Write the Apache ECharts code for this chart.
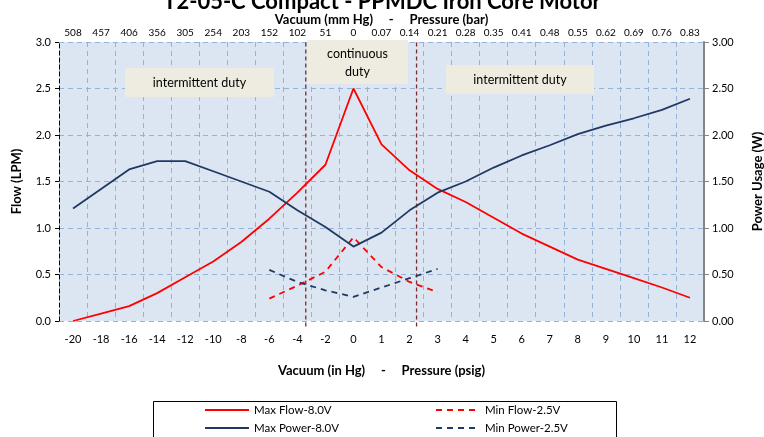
<!DOCTYPE html>
<html><head><meta charset="utf-8">
<script src="https://cdn.jsdelivr.net/npm/echarts@6/dist/echarts.min.js"></script>
<style>html,body{margin:0;padding:0;background:#fff}#c{width:764px;height:437px}</style>
</head><body><div id="c"></div>
<script>
const bottomLabels = ['-20','-18','-16','-14','-12','-10','-8','-6','-4','-2','0','1','2','3','4','5','6','7','8','9','10','11','12'];
const topLabels = ['508','457','406','356','305','254','203','152','102','51','0','0.07','0.14','0.21','0.28','0.35','0.41','0.48','0.55','0.62','0.69','0.76','0.83'];
const maxFlow = [0.00,0.08,0.16,0.30,0.47,0.64,0.85,1.10,1.38,1.68,2.50,1.90,1.62,1.42,1.28,1.11,0.94,0.80,0.66,0.56,0.46,0.36,0.25];
const maxPower = [1.21,1.42,1.63,1.72,1.72,1.61,1.50,1.39,1.19,1.01,0.80,0.95,1.19,1.38,1.50,1.65,1.78,1.89,2.01,2.10,2.18,2.27,2.39];
const minFlow = [null,null,null,null,null,null,null,0.24,0.38,0.53,0.90,0.58,0.42,0.31,null,null,null,null,null,null,null,null,null];
const minPower = [null,null,null,null,null,null,null,0.55,0.42,0.33,0.26,0.36,0.46,0.56,null,null,null,null,null,null,null,null,null];
const dutyBoundaries = [-3.4, 2.25]; // vacuum inHg (neg) / pressure psig (pos)

function toIndex(v){ return v < 0 ? (v + 20) / 2 : 10 + v; }

const FONT = 'Lato';
const chart = echarts.init(document.getElementById('c'));
const boundarySeries = dutyBoundaries.map(b => ({
  type:'line', xAxisIndex:2, yAxisIndex:0, symbol:'none', silent:true, clip:false,
  data:[[toIndex(b), -0.06],[toIndex(b), 3.0]],
  lineStyle:{color:'#7b2c2c', width:1.3, type:[4,3]}, z:3
}));
const legendCommon = {orient:'vertical', top:404, itemGap:6, itemWidth:44, itemHeight:12, padding:0,
  itemStyle:{opacity:0}, textStyle:{fontFamily:FONT, fontSize:11.5, color:'#000'}};
chart.setOption({
  animation:false,
  textStyle:{fontFamily:FONT},
  title:{text:'T2-05-C Compact - PPMDC Iron Core Motor', left:'center', top:-14,
    textStyle:{fontFamily:FONT, fontSize:22, fontWeight:'bold', color:'#000'}},
  grid:{left:59, right:60, top:42, bottom:116, show:true, backgroundColor:'#dce6f2', borderWidth:0,
    outerBoundsMode:'none', containLabel:false},
  legend:[
    Object.assign({data:['Max Flow-8.0V','Max Power-8.0V'], left:204}, legendCommon),
    Object.assign({data:['Min Flow-2.5V','Min Power-2.5V'], left:435}, legendCommon)
  ],
  xAxis:[
    {type:'category', data:bottomLabels, position:'bottom', boundaryGap:true,
     axisLine:{show:false}, axisTick:{show:false},
     axisLabel:{fontFamily:FONT, fontSize:11, color:'#000', margin:13, interval:0},
     splitLine:{show:true, lineStyle:{color:'#95b3d7', type:[5,4], width:1}},
     name:'Vacuum (in Hg)     -     Pressure (psig)', nameLocation:'middle', nameGap:43,
     nameTextStyle:{fontFamily:FONT, fontSize:13, fontWeight:'bold', color:'#000'}},
    {type:'category', data:topLabels, position:'top', boundaryGap:true,
     axisLine:{show:false}, axisTick:{show:false},
     axisLabel:{fontFamily:FONT, fontSize:10, color:'#000', margin:4, interval:0},
     name:'Vacuum (mm Hg)     -     Pressure (bar)', nameLocation:'middle', nameGap:16, nameMoveOverlap:false,
     nameTextStyle:{fontFamily:FONT, fontSize:13, fontWeight:'bold', color:'#000'}},
    {type:'value', min:-0.5, max:22.5, show:false}
  ],
  yAxis:[
    {type:'value', min:0, max:3, interval:0.5, position:'left',
     axisLine:{show:true, onZero:false, lineStyle:{color:'#000', type:[4,3], width:1}},
     axisTick:{show:true, inside:false, length:4, lineStyle:{color:'#000'}},
     axisLabel:{fontFamily:FONT, fontSize:11, color:'#000', formatter:v=>v.toFixed(1)},
     splitLine:{show:true, lineStyle:{color:'#95b3d7', type:[5,4], width:1}},
     name:'Flow (LPM)', nameLocation:'middle', nameGap:36, nameMoveOverlap:false, nameRotate:90,
     nameTextStyle:{fontFamily:FONT, fontSize:13, fontWeight:'bold', color:'#000'}},
    {type:'value', min:0, max:3, interval:0.5, position:'right',
     axisLine:{show:true, onZero:false, lineStyle:{color:'#868686', width:2}},
     axisTick:{show:true, inside:false, length:5, lineStyle:{color:'#868686'}},
     axisLabel:{fontFamily:FONT, fontSize:11, color:'#000', formatter:v=>v.toFixed(2)},
     splitLine:{show:false},
     name:'Power Usage (W)', nameLocation:'middle', nameGap:47, nameMoveOverlap:false, nameRotate:90,
     nameTextStyle:{fontFamily:FONT, fontSize:13, fontWeight:'bold', color:'#000'}}
  ],
  graphic:[
    {type:'rect', shape:{x:153.5, y:401.5, width:463, height:50}, style:{fill:'#fff', stroke:'#000', lineWidth:1}, z:-1},
    {type:'rect', shape:{x:125, y:68, width:149, height:29}, style:{fill:'#eeece1'}, z:10},
    {type:'text', x:199.5, y:82.5, style:{text:'intermittent duty', fontFamily:FONT, fontSize:12.5, fill:'#000', align:'center', verticalAlign:'middle'}, z:11},
    {type:'rect', shape:{x:307, y:40, width:101, height:44}, style:{fill:'#eeece1'}, z:10},
    {type:'text', x:357.5, y:63, style:{text:'continuous\nduty', fontFamily:FONT, fontSize:12.5, lineHeight:18, fill:'#000', align:'center', verticalAlign:'middle'}, z:11},
    {type:'rect', shape:{x:446, y:65, width:148, height:29}, style:{fill:'#eeece1'}, z:10},
    {type:'text', x:520, y:79.5, style:{text:'intermittent duty', fontFamily:FONT, fontSize:12.5, fill:'#000', align:'center', verticalAlign:'middle'}, z:11}
  ],
  series:[
    {name:'Max Flow-8.0V', type:'line', data:maxFlow, xAxisIndex:0, yAxisIndex:0, symbol:'none', lineStyle:{color:'#ff0000', width:1.8}, itemStyle:{color:'#ff0000'}, z:5},
    {name:'Min Flow-2.5V', type:'line', data:minFlow, xAxisIndex:0, yAxisIndex:0, symbol:'none', lineStyle:{color:'#ff0000', width:1.8, type:[6,5]}, itemStyle:{color:'#ff0000'}, z:5},
    {name:'Max Power-8.0V', type:'line', data:maxPower, xAxisIndex:0, yAxisIndex:1, symbol:'none', lineStyle:{color:'#1f3864', width:1.8}, itemStyle:{color:'#1f3864'}, z:5},
    {name:'Min Power-2.5V', type:'line', data:minPower, xAxisIndex:0, yAxisIndex:1, symbol:'none', lineStyle:{color:'#1f3864', width:1.8, type:[6,5]}, itemStyle:{color:'#1f3864'}, z:5}
  ].concat(boundarySeries)
});
</script></body></html>
